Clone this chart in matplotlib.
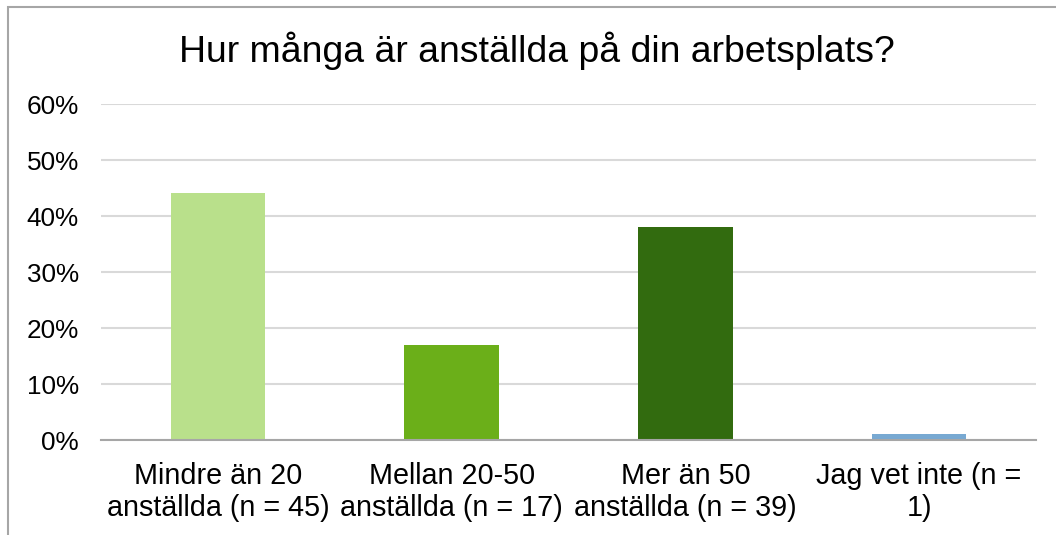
import matplotlib.pyplot as plt
from matplotlib.patches import Rectangle
from matplotlib.ticker import PercentFormatter

categories = ['Mindre än 20\nanställda (n = 45)',
              'Mellan 20-50\nanställda (n = 17)',
              'Mer än 50\nanställda (n = 39)',
              'Jag vet inte (n =\n1)']
shares = [44.1, 17.0, 38.0, 1.0]
bar_colors = ['#B9E08B', '#6BAF19', '#326B0F', '#78A9D2']
title = 'Hur många är anställda på din arbetsplats?'

plt.rcParams['font.family'] = ['Liberation Sans', 'DejaVu Sans']

W, H = 1056, 535
fig = plt.figure(figsize=(W / 100, H / 100), dpi=100)

# axes box in pixels: left 101, right 1036, top (60%) 104, bottom 440
ax = fig.add_axes([101 / W, 1 - 440 / H, 935 / W, 336 / H])

x = range(len(categories))
ax.bar(x, shares, width=0.405, color=bar_colors, zorder=3)

ax.set_xlim(-0.5, len(categories) - 0.5)
ax.set_ylim(0, 60)
ax.set_yticks(range(0, 61, 10))
ax.yaxis.set_major_formatter(PercentFormatter(decimals=0))
ax.set_xticks(list(x))
ax.set_xticklabels(categories, fontsize=20.7, linespacing=1.15)
ax.tick_params(axis='y', labelsize=18.8, length=0, pad=16)
ax.tick_params(axis='x', length=0, pad=16)

ax.grid(True, axis='y', color='#D9D9D9', linewidth=1.5, zorder=0)
for side in ['top', 'right', 'left']:
    ax.spines[side].set_visible(False)
ax.spines['bottom'].set_color('#A6A6A6')
ax.spines['bottom'].set_linewidth(1.5)
ax.spines['bottom'].set_zorder(4)

fig.text(536.5 / W, 1 - 51 / H, title, ha='center', va='center', fontsize=26.9)

# outer chart border (right and bottom edges cropped in the original)
fig.patches.append(Rectangle((8 / W, -0.05), 1.1, 1.05 - 7 / H,
                             transform=fig.transFigure, fill=False,
                             edgecolor='#A6A6A6', linewidth=1.5))

fig.savefig('out.png', dpi=100)
